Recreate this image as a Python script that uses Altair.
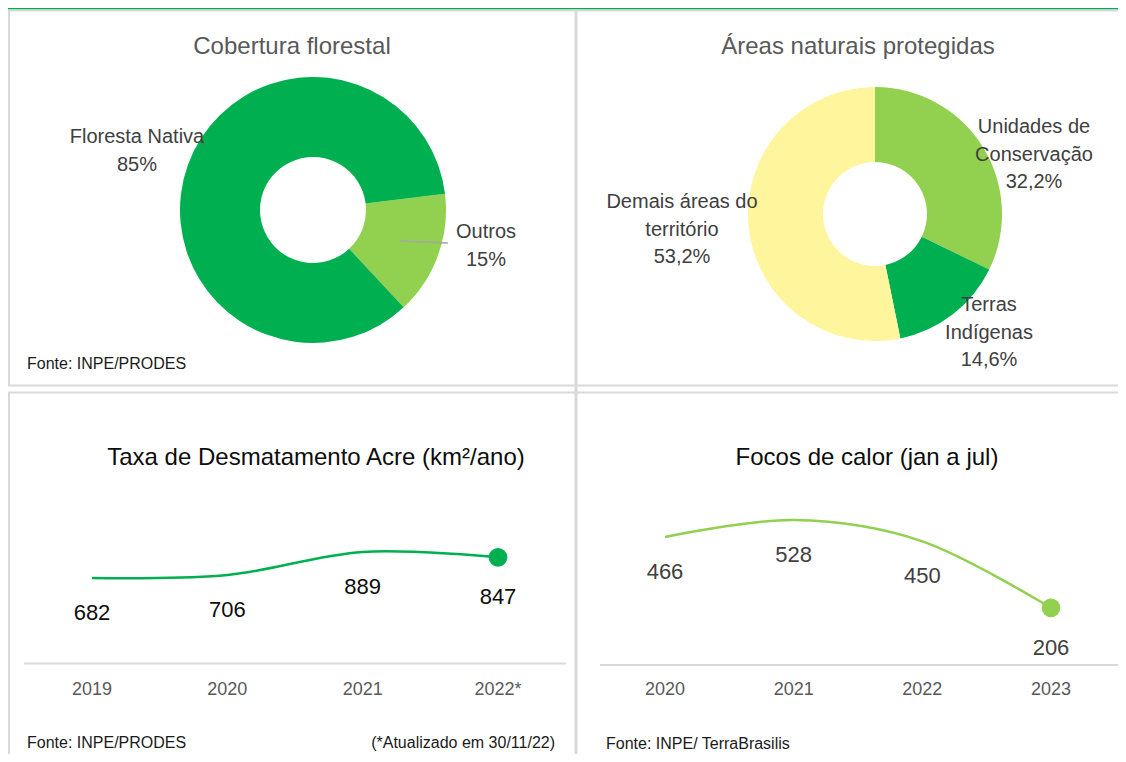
import math
import altair as alt
import pandas as pd

FONT = "Liberation Sans Narrow, Arial Narrow, Liberation Sans, sans-serif"
GREEN = "#00B050"
LIGHT = "#92D050"
YELLOW = "#FFF59D"
BORDER = "#D9D9D9"

# ---- data ----
cob_cats = ["Outros", "Floresta Nativa"]
cob_vals = [15, 85]
cob_colors = [LIGHT, GREEN]

areas_cats = ["Unidades de Conservação", "Terras Indígenas", "Demais áreas do território"]
areas_vals = [32.2, 14.6, 53.2]
areas_colors = [LIGHT, GREEN, YELLOW]

desm_years = ["2019", "2020", "2021", "2022*"]
desm_vals = [682, 706, 889, 847]

focos_years = ["2020", "2021", "2022", "2023"]
focos_vals = [466, 528, 450, 206]

one = pd.DataFrame({"a": [1]})

TITLE_SIZE = 24
LABEL_SIZE = 20
SRC_SIZE = 16
LH = 27.5


def txt(lines, x, y, size, color, align="center", lh=None):
    kw = dict(text=lines, fontSize=size, color=color, align=align,
              baseline="middle", font=FONT)
    if lh:
        kw["lineHeight"] = lh
    return alt.Chart(one).mark_text(**kw).encode(x=alt.value(x), y=alt.value(y))


def rule(x, x2, y, y2, color, w):
    return alt.Chart(one).mark_rule(color=color, strokeWidth=w).encode(
        x=alt.value(x), x2=alt.value(x2), y=alt.value(y), y2=alt.value(y2))


deco = [
    alt.Chart(one).mark_rect(color=GREEN).encode(
        x=alt.value(0), x2=alt.value(1110), y=alt.value(0), y2=alt.value(1.5)),
    rule(0, 1110, 2.5, 2.5, BORDER, 2),
    rule(1, 1, 2, 378, BORDER, 2),
    rule(1, 1, 384, 746, BORDER, 2),
    rule(568, 568, 2, 746, BORDER, 3),
    rule(0, 1110, 377.5, 377.5, BORDER, 2),
    rule(0, 1110, 384.5, 384.5, BORDER, 2),
]

# ---- donut 1 ----
cob_df = pd.DataFrame({"cat": cob_cats, "val": cob_vals, "i": list(range(len(cob_cats)))})
s1 = math.radians(83)
donut1 = alt.Chart(cob_df).mark_arc(outerRadius=133, innerRadius=53).encode(
    theta=alt.Theta("val:Q", stack=True, scale=alt.Scale(range=[s1, s1 + 2 * math.pi])),
    color=alt.Color("cat:N", scale=alt.Scale(domain=cob_cats, range=cob_colors), legend=None),
    order=alt.Order("i:Q"),
    x=alt.value(305), y=alt.value(202),
)

# ---- donut 2 ----
areas_df = pd.DataFrame({"cat": areas_cats, "val": areas_vals, "i": list(range(len(areas_cats)))})
donut2 = alt.Chart(areas_df).mark_arc(outerRadius=127, innerRadius=52).encode(
    theta=alt.Theta("val:Q", stack=True, scale=alt.Scale(range=[0, 2 * math.pi])),
    color=alt.Color("cat:N", scale=alt.Scale(domain=areas_cats, range=areas_colors), legend=None),
    order=alt.Order("i:Q"),
    x=alt.value(867), y=alt.value(206),
)

texts = [
    txt("Cobertura florestal", 284, 39, TITLE_SIZE, "#595959"),
    txt("Áreas naturais protegidas", 850, 39, TITLE_SIZE, "#595959"),
    txt(["Floresta Nativa", "85%"], 129, 129, LABEL_SIZE, "#404040", lh=LH),
    txt(["Outros", "15%"], 478, 224, LABEL_SIZE, "#404040", lh=LH),
    rule(392, 440, 233, 235, "#A6A6A6", 1.5),
    txt("Fonte: INPE/PRODES", 19, 356, SRC_SIZE, "#1a1a1a", align="left"),
    txt(["Unidades de", "Conservação", "32,2%"], 1026, 119, LABEL_SIZE, "#404040", lh=LH),
    txt(["Demais áreas do", "território", "53,2%"], 674, 194, LABEL_SIZE, "#404040", lh=LH),
    txt(["Terras", "Indígenas", "14,6%"], 981, 297, LABEL_SIZE, "#404040", lh=LH),
    txt("Taxa de Desmatamento Acre (km²/ano)", 308, 450, TITLE_SIZE, "#0d0d0d"),
    txt("Focos de calor (jan a jul)", 859, 450, TITLE_SIZE, "#0d0d0d"),
    rule(16, 558, 655.5, 655.5, BORDER, 2),
    rule(592, 1110, 657, 657, BORDER, 2),
    txt("Fonte: INPE/PRODES", 19, 735, SRC_SIZE, "#1a1a1a", align="left"),
    txt("(*Atualizado em 30/11/22)", 547, 735, SRC_SIZE, "#1a1a1a", align="right"),
    txt("Fonte: INPE/ TerraBrasilis", 598, 736, SRC_SIZE, "#1a1a1a", align="left"),
]


def line_panel(years, vals, xr, ydom, yr, color, labcolor):
    df = pd.DataFrame({"year": years, "val": vals})
    last = years[-1]
    xs = alt.X("year:N", sort=years, axis=None,
               scale=alt.Scale(type="point", range=xr, padding=0))
    ys = alt.Y("val:Q", axis=None,
               scale=alt.Scale(domain=ydom, range=yr, nice=False, zero=True))
    base = alt.Chart(df).encode(x=xs, y=ys)
    ln = base.mark_line(interpolate="cardinal", color=color, strokeWidth=2.5)
    pt = base.mark_circle(size=350, color=color, opacity=1).transform_filter(
        alt.datum.year == last)
    lab = base.mark_text(dy=35, fontSize=22, font=FONT, color=labcolor).encode(
        text="val:Q").transform_filter(alt.datum.year != last)
    lab2 = base.mark_text(dy=40, fontSize=22, font=FONT, color=labcolor).encode(
        text="val:Q").transform_filter(alt.datum.year == last)
    yrs = alt.Chart(df).mark_text(fontSize=18, font=FONT, color="#595959").encode(
        x=xs, y=alt.value(682), text="year:N")
    return alt.layer(ln, pt, lab, lab2, yrs)


panel3 = line_panel(desm_years, desm_vals, [84, 490], [0, 1000], [656, 530], GREEN, "#0d0d0d")
panel4 = line_panel(focos_years, focos_vals, [657, 1043], [0, 600], [656, 492.5], LIGHT, "#404040")

chart = alt.layer(*deco, donut1, donut2, *texts, panel3, panel4).resolve_scale(
    x="independent", y="independent", theta="independent", color="independent"
).properties(
    width=1110, height=746, padding=0,
    autosize=alt.AutoSizeParams(type="none"),
    background="white",
).configure_view(strokeWidth=0)

chart.save("out.html", embed_options={"renderer": "svg", "actions": False})
